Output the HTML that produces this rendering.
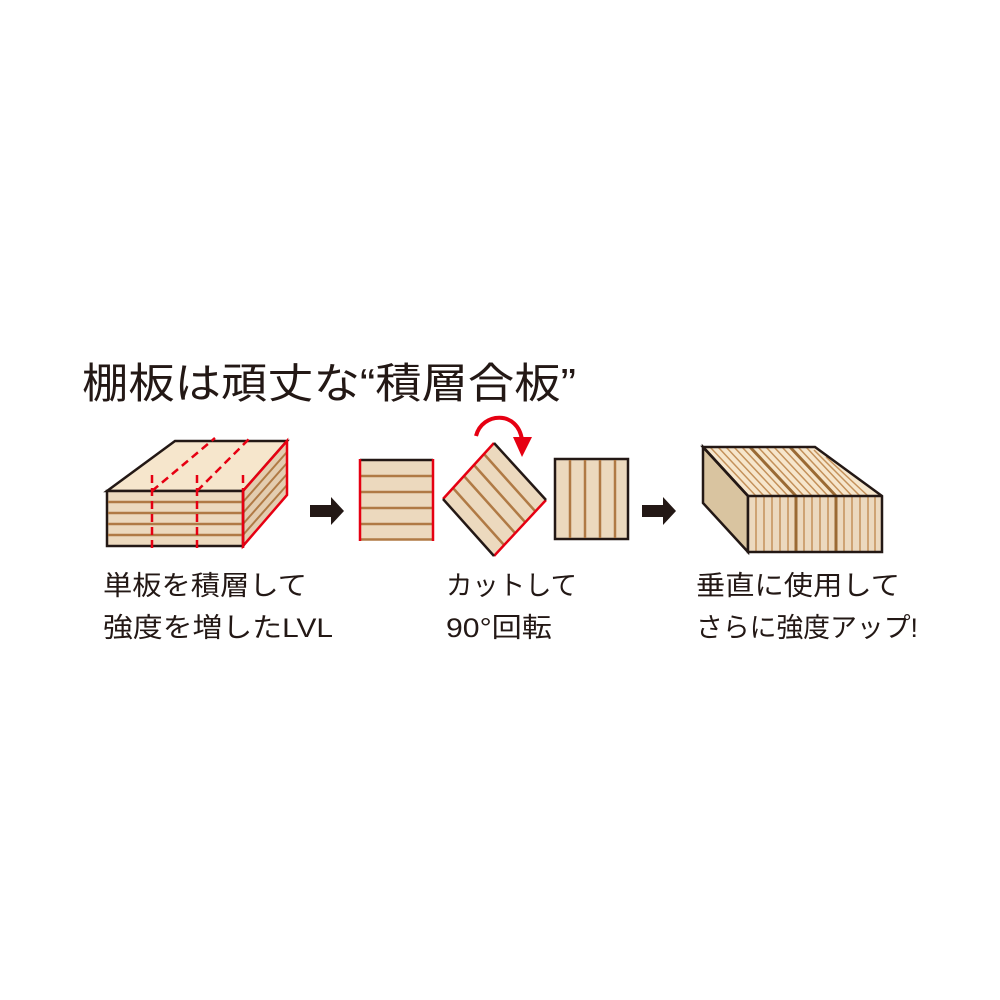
<!DOCTYPE html>
<html><head><meta charset="utf-8"><style>body{margin:0;background:#fff}svg{display:block}text{font-family:"Liberation Sans","Noto Sans CJK JP",sans-serif;fill:#231815}</style></head><body>
<svg width="1000" height="1000" viewBox="0 0 1000 1000" xmlns="http://www.w3.org/2000/svg">
<text x="82" y="398" font-size="42" textLength="494" lengthAdjust="spacingAndGlyphs">棚板は頑丈な“積層合板”</text>
<!-- block 1 -->
<polygon points="107,491 175,441 287,441 243,491" fill="#f6e6cc" stroke="#231815" stroke-width="2.5"/>
<polygon points="243,491 287,441 287,495 243,546" fill="#e3cdb0"/>
<g stroke="#b07a45" stroke-width="2">
<line x1="243" y1="502" x2="287" y2="452"/><line x1="243" y1="513" x2="287" y2="463"/><line x1="243" y1="524" x2="287" y2="474"/><line x1="243" y1="535" x2="287" y2="485"/>
</g>
<polygon points="243,491 287,441 287,495 243,546" fill="none" stroke="#e60012" stroke-width="2.5"/>
<rect x="107" y="491" width="136" height="55" fill="#ecd9be" stroke="#231815" stroke-width="2.5"/>
<g stroke="#b07a45" stroke-width="2.5">
<line x1="108" y1="502" x2="242" y2="502"/><line x1="108" y1="513" x2="242" y2="513"/><line x1="108" y1="524" x2="242" y2="524"/><line x1="108" y1="535" x2="242" y2="535"/>
</g>
<g stroke="#e60012" stroke-width="2.5" stroke-dasharray="8,5" fill="none">
<line x1="152" y1="475" x2="152" y2="550"/><line x1="197" y1="475" x2="197" y2="550"/><line x1="243" y1="475" x2="243" y2="491"/>
<line x1="152" y1="491" x2="215" y2="438"/><line x1="197" y1="491" x2="250" y2="438"/>
</g>
<line x1="243" y1="491" x2="243" y2="548" stroke="#e60012" stroke-width="2.5"/>
<!-- arrows -->
<polygon points="310,505 331,505 331,497 344,511 331,525 331,517 310,517" fill="#231815"/>
<polygon points="642,505 663,505 663,497 676,511 663,525 663,517 642,517" fill="#231815"/>
<!-- square 1 -->
<rect x="360" y="460" width="73" height="80" fill="#ecd9be"/>
<g stroke="#b07a45" stroke-width="2.5"><line x1="361" y1="476" x2="432" y2="476"/><line x1="361" y1="492" x2="432" y2="492"/><line x1="361" y1="508" x2="432" y2="508"/><line x1="361" y1="524" x2="432" y2="524"/><line x1="361" y1="539.5" x2="432" y2="539.5"/></g>
<line x1="360" y1="460" x2="433" y2="460" stroke="#231815" stroke-width="2.5"/>
<line x1="360" y1="459" x2="360" y2="541" stroke="#e60012" stroke-width="2.5"/>
<line x1="433" y1="459" x2="433" y2="541" stroke="#e60012" stroke-width="2.5"/>
<!-- rotated square -->
<polygon points="494,443 546,500 494,556 443,499" fill="#ecd9be"/>
<g stroke="#b07a45" stroke-width="2.5">
<line x1="484" y1="454" x2="535" y2="511"/><line x1="474" y1="465" x2="525" y2="522"/><line x1="464" y1="476" x2="515" y2="533"/><line x1="453" y1="488" x2="504" y2="545"/>
</g>
<line x1="494" y1="443" x2="443" y2="499" stroke="#e60012" stroke-width="2.5"/>
<line x1="546" y1="500" x2="494" y2="556" stroke="#e60012" stroke-width="2.5"/>
<line x1="494" y1="443" x2="546" y2="500" stroke="#231815" stroke-width="2.5"/>
<line x1="443" y1="499" x2="494" y2="556" stroke="#231815" stroke-width="2.5"/>
<path d="M476,436 C482,412 518,410 522,440" fill="none" stroke="#e60012" stroke-width="4"/>
<polygon points="513,437 532,437 522,457" fill="#e60012"/>
<!-- square 3 -->
<rect x="555" y="459" width="73" height="80" fill="#ecd9be" stroke="#231815" stroke-width="2.5"/>
<g stroke="#b07a45" stroke-width="2.5"><line x1="570" y1="460" x2="570" y2="538"/><line x1="585" y1="460" x2="585" y2="538"/><line x1="600" y1="460" x2="600" y2="538"/><line x1="615" y1="460" x2="615" y2="538"/></g>
<!-- block 3 -->
<polygon points="703,447 815,447 882,496 748,496" fill="#f6e6cc"/>
<g stroke="#c4915a" stroke-width="1.5">
<line x1="710" y1="447" x2="756" y2="496"/><line x1="718" y1="447" x2="764" y2="496"/><line x1="726" y1="447" x2="772" y2="496"/><line x1="734" y1="447" x2="780" y2="496"/><line x1="742" y1="447" x2="788" y2="496"/><line x1="758" y1="447" x2="804" y2="496"/><line x1="766" y1="447" x2="812" y2="496"/><line x1="774" y1="447" x2="820" y2="496"/><line x1="782" y1="447" x2="828" y2="496"/><line x1="798" y1="447" x2="844" y2="496"/><line x1="806" y1="447" x2="852" y2="496"/><line x1="814" y1="450" x2="860" y2="496"/><line x1="826" y1="457" x2="868" y2="496"/>
</g>
<g stroke="#9a6a34" stroke-width="3"><line x1="750" y1="447" x2="796" y2="496"/><line x1="790" y1="447" x2="836" y2="496"/></g>
<polygon points="703,447 748,496 748,552 703,503" fill="#d9c4a0" stroke="#231815" stroke-width="2.5"/>
<rect x="748" y="496" width="134" height="56" fill="#ecd9be"/>
<g stroke="#c4915a" stroke-width="1.5">
<line x1="756" y1="497" x2="756" y2="551"/><line x1="764" y1="497" x2="764" y2="551"/><line x1="772" y1="497" x2="772" y2="551"/><line x1="780" y1="497" x2="780" y2="551"/><line x1="788" y1="497" x2="788" y2="551"/><line x1="804" y1="497" x2="804" y2="551"/><line x1="812" y1="497" x2="812" y2="551"/><line x1="820" y1="497" x2="820" y2="551"/><line x1="828" y1="497" x2="828" y2="551"/><line x1="844" y1="497" x2="844" y2="551"/><line x1="852" y1="497" x2="852" y2="551"/><line x1="860" y1="497" x2="860" y2="551"/><line x1="868" y1="497" x2="868" y2="551"/><line x1="875" y1="497" x2="875" y2="551"/>
</g>
<g stroke="#9a6a34" stroke-width="3"><line x1="796" y1="497" x2="796" y2="551"/><line x1="836" y1="497" x2="836" y2="551"/></g>
<polygon points="703,447 815,447 882,496 882,552 748,552 748,496" fill="none" stroke="#231815" stroke-width="2.5"/>
<line x1="703" y1="447" x2="748" y2="496" stroke="#231815" stroke-width="2.5"/>
<line x1="748" y1="496" x2="882" y2="496" stroke="#231815" stroke-width="2.5"/>
<!-- labels -->
<g font-size="27">
<text x="103" y="595" textLength="204" lengthAdjust="spacingAndGlyphs">単板を積層して</text>
<text x="103" y="637" textLength="230" lengthAdjust="spacingAndGlyphs">強度を増したLVL</text>
<text x="446" y="595" textLength="131" lengthAdjust="spacingAndGlyphs">カットして</text>
<text x="446" y="637" textLength="106" lengthAdjust="spacingAndGlyphs">90°回転</text>
<text x="696" y="595" textLength="204" lengthAdjust="spacingAndGlyphs">垂直に使用して</text>
<text x="696" y="637" textLength="222" lengthAdjust="spacingAndGlyphs">さらに強度アップ!</text>
</g>
</svg>
</body></html>
